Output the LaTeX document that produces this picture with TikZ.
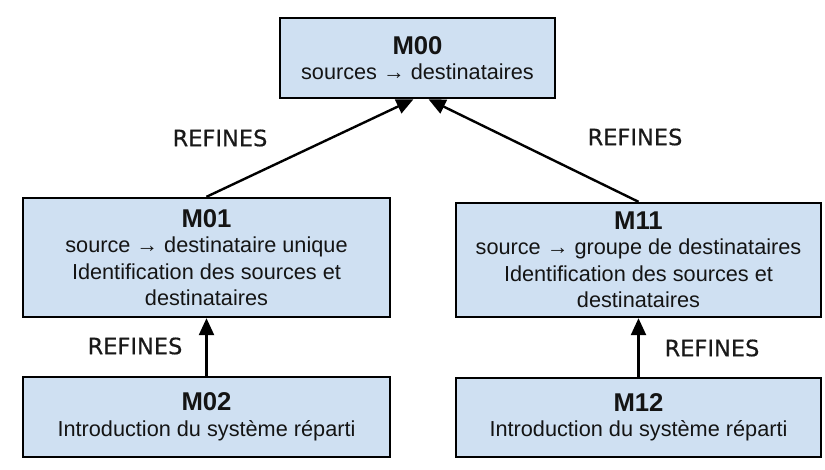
\documentclass[tikz,border=0pt]{standalone}
\usepackage{fontspec}
\setmainfont{Liberation Sans}
\newfontfamily\refont[FakeBold=0.6]{DejaVu Sans}
\usetikzlibrary{arrows.meta}
\definecolor{boxfill}{RGB}{207,224,242}
\definecolor{boxtext}{RGB}{20,20,20}
\begin{document}
\begin{tikzpicture}[x=1pt,y=-1pt,
  mbox/.style={draw=black, line width=2.4pt, fill=boxfill, inner sep=0pt,
    align=center, text=boxtext, font=\fontsize{21.7}{26.5}\selectfont},
  reflabel/.style={font=\refont\fontsize{22.5}{26}\selectfont, text=black!90, inner sep=0pt},
  refarrow/.style={line width=2.4pt, -{Triangle[length=17pt,width=15pt]}}
]
\useasboundingbox (0,0) rectangle (825,470);
\fill[white] (0,0) rectangle (825,470);
\newcommand{\ttl}[1]{{\fontsize{25.7}{30}\selectfont\bfseries #1}}

\node[mbox, minimum width=275pt, minimum height=80pt] (M00) at (417.5,58)
  {\ttl{M00}\\[-1pt] sources → destinataires};
\node[mbox, minimum width=367pt, minimum height=119pt] (M01) at (206.5,257.5)
  {\ttl{M01}\\[-1pt] source → destinataire unique\\ Identification des sources et\\ destinataires};
\node[mbox, minimum width=367pt, minimum height=80pt] (M02) at (206.5,417)
  {\ttl{M02}\\[-1pt] Introduction du système réparti};
\node[mbox, minimum width=365pt, minimum height=114pt] (M11) at (638.5,260)
  {\ttl{M11}\\[-1pt] source → groupe de destinataires\\ Identification des sources et\\ destinataires};
\node[mbox, minimum width=365pt, minimum height=79pt] (M12) at (638.5,417.5)
  {\ttl{M12}\\[-1pt] Introduction du système réparti};

\draw[refarrow] (M01.north) -- ([xshift=-4pt]M00.south);
\draw[refarrow] (M11.north) -- ([xshift=11pt]M00.south);
\draw[refarrow] (M02.north) -- (M01.south);
\draw[refarrow] (M12.north) -- (M11.south);

\node[reflabel] (L1) at (220,138) {REFINES};
\node[reflabel] (L2) at (635,137) {REFINES};
\node[reflabel] (L3) at (135,346) {REFINES};
\node[reflabel] (L4) at (712,348) {REFINES};
\end{tikzpicture}
\end{document}
